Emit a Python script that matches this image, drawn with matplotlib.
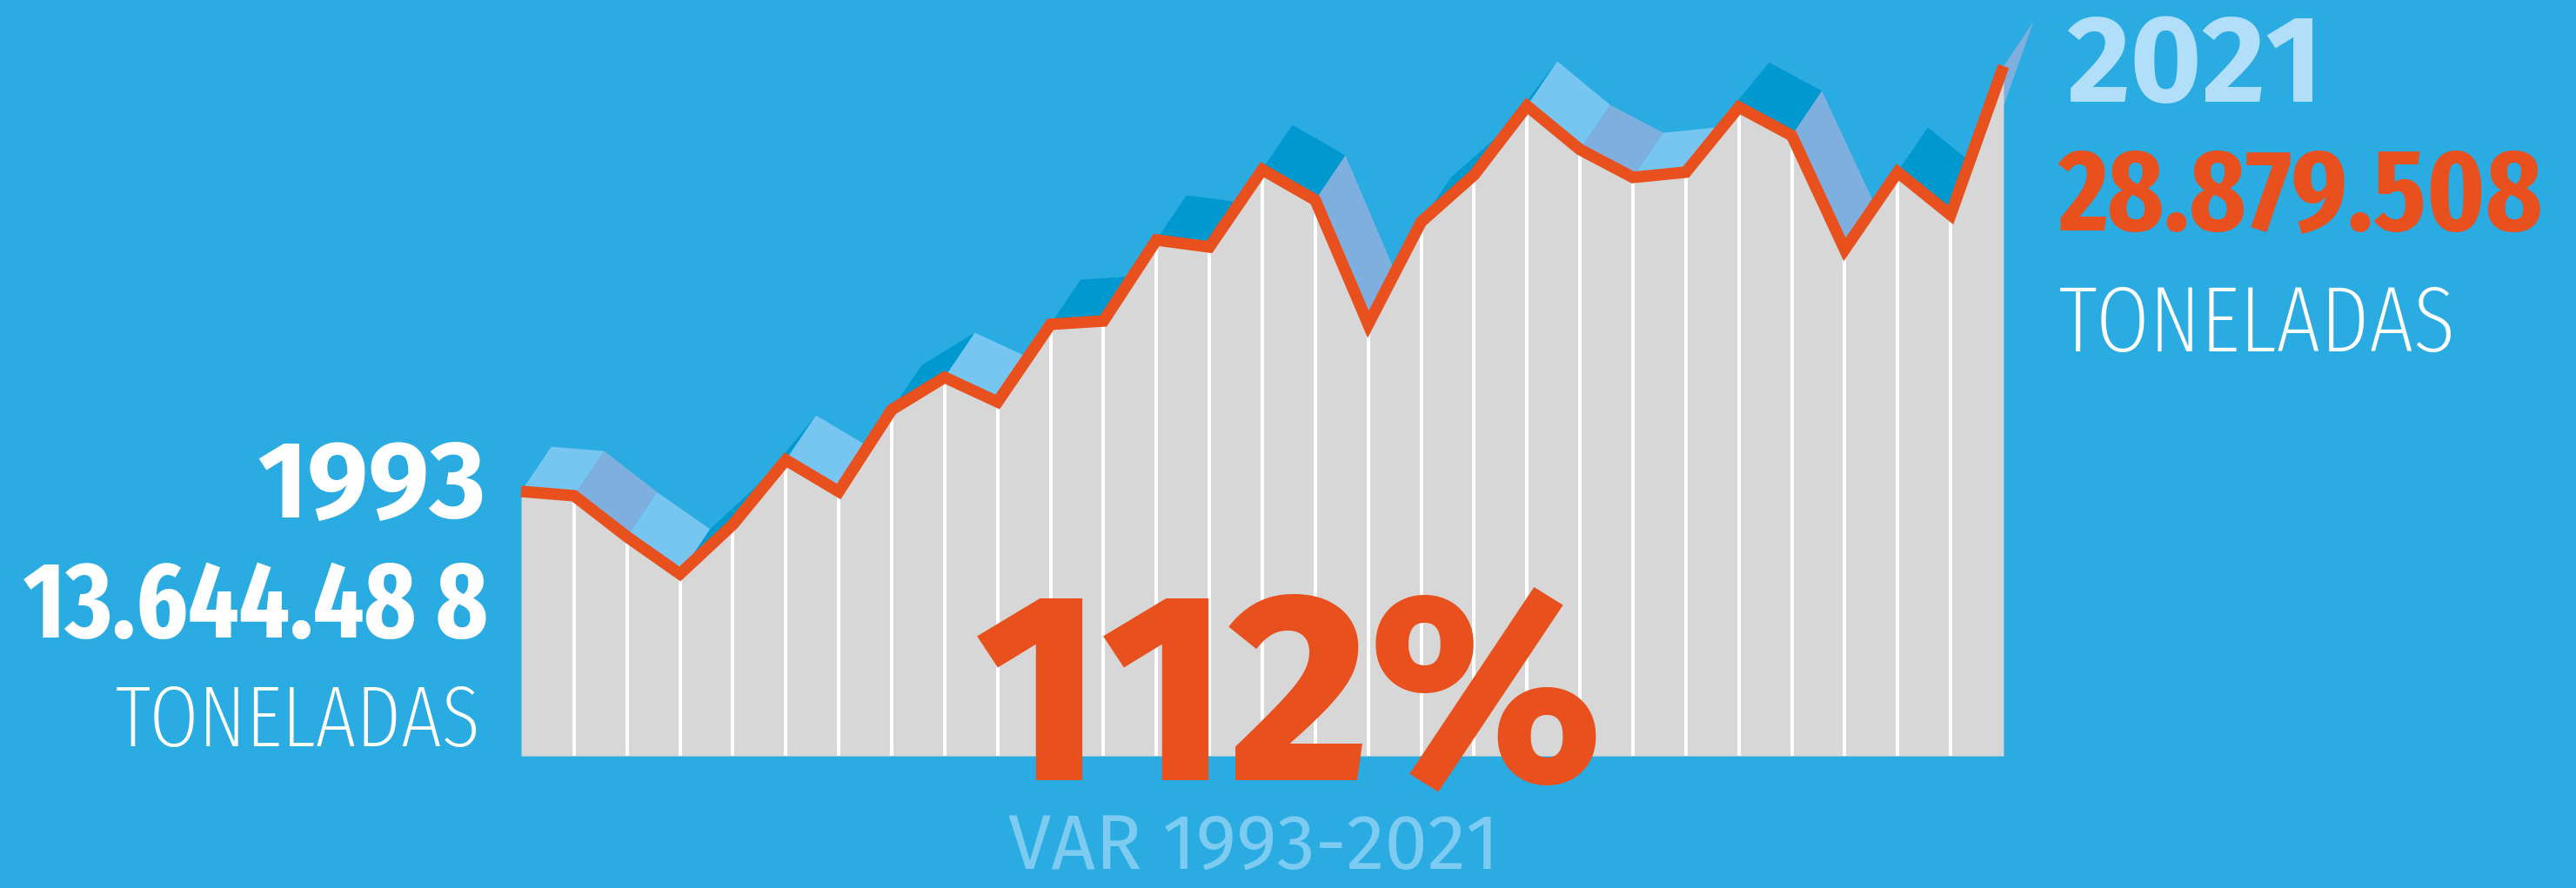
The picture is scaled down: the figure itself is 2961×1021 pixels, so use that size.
import matplotlib
matplotlib.use("Agg")
import matplotlib.pyplot as plt
import matplotlib.font_manager as fm
from matplotlib.textpath import TextPath
from matplotlib.patches import Polygon
import numpy as np
import os
import math

# ---------------- data ----------------
years = list(range(1993, 2022))
# tonnes, millions
values = [13.644488, 13.49, 12.02, 10.69, 12.46, 14.77, 13.64, 16.57, 17.73, 16.85,
          19.63, 19.75, 22.65, 22.40, 25.17, 24.08, 19.63, 23.30, 24.98, 27.45,
          25.89, 24.89, 25.08, 27.41, 26.39, 22.31, 25.08, 23.55, 28.879508]
start_year_label = "1993"
start_value_label = "13.644.48 8"
end_year_label = "2021"
end_value_label = "28.879.508"
unit_label = "TONELADAS"
var_label = "112%"
var_caption = "VAR 1993-2021"

# ---------------- style ----------------
W, H, DPI = 2961, 1021, 100
BG = "#2AABE2"
GREY = "#D7D7D7"
ORANGE = "#E8501E"
LIGHT = "#76C6F1"
PURPLE = "#7FAFDE"
DARK = "#0099CF"
seg_colors = [LIGHT, PURPLE, LIGHT, DARK, DARK, LIGHT, DARK, DARK, LIGHT, DARK,
              DARK, DARK, DARK, DARK, DARK, PURPLE, DARK, DARK, DARK, LIGHT,
              PURPLE, LIGHT, DARK, DARK, PURPLE, DARK, DARK, PURPLE]
BASE = 4.17          # value at the bottom of the grey area
DX, DY = 0.57, 1.6   # 3D ribbon offset (years, millions)

# ---------------- fonts ----------------
ttf = fm.fontManager.ttflist


def key(f):
    return (os.path.basename(f.fname) + " " + f.name).lower().replace("-", "").replace(" ", "")


def weight_of(f):
    k = key(f)
    w = f.weight
    if isinstance(w, str):
        w = {"ultralight": 200, "light": 300, "normal": 400, "regular": 400,
             "medium": 500, "semibold": 600, "bold": 700, "heavy": 800,
             "black": 900}.get(w, 400)
    if "extrabold" in k or "black" in k or "heavy" in k:
        w = max(w, 800)
    elif "semibold" in k:
        w = max(w, 600)
    elif "bold" in k:
        w = max(w, 700)
    if "thin" in k or "hairline" in k:
        w = min(w, 100)
    elif "extralight" in k:
        w = min(w, 200)
    elif "light" in k:
        w = min(w, 300)
    return w


def cond_of(f):
    k = key(f)
    if "extracondensed" in k or "ultracondensed" in k:
        return 3
    if "semicondensed" in k:
        return 1
    if "condensed" in k or "cond" in k or "narrow" in k:
        return 2
    return 0


def italic(f):
    k = key(f)
    return f.style != "normal" or "italic" in k or "oblique" in k


def fira(weight):
    out = []
    for f in ttf:
        if italic(f):
            continue
        k = os.path.basename(f.fname).lower()
        if k.startswith("firasans") and "mono" not in k and weight_of(f) == weight:
            out.append(fm.FontProperties(fname=f.fname))
    return out


def best_cond(target_w, fallback):
    cands = [f for f in ttf if not italic(f) and cond_of(f) > 0]
    if not cands:
        return [fallback]
    cands.sort(key=lambda f: (abs(weight_of(f) - target_w) // 50, -cond_of(f)))
    f = cands[0]
    if abs(weight_of(f) - target_w) > 150:
        return [fallback]
    return [fm.FontProperties(fname=f.fname)]


bold_set = fira(700) or best_cond(700, fm.FontProperties(family="DejaVu Sans", weight="bold"))
heavy_set = fira(800) or fira(900) or bold_set
reg_set = fira(400) or best_cond(400, fm.FontProperties(family="DejaVu Sans"))
thin_set = fira(200) or fira(100) or best_cond(200, fm.FontProperties(family="Lato", weight="light"))

# ---------------- figure ----------------
fig = plt.figure(figsize=(W / DPI, H / DPI), dpi=DPI, facecolor=BG)
ax = fig.add_axes([0, 0, 1, 1])
ax.set_facecolor(BG)
ax.set_xlim(1983.157, 2031.813)
ax.set_ylim(-0.561, 31.246)
ax.axis("off")

x = np.array(years, dtype=float)
y = np.array(values, dtype=float)

for i in range(len(x) - 1):
    pts = [(x[i], y[i]), (x[i] + DX, y[i] + DY),
           (x[i + 1] + DX, y[i + 1] + DY), (x[i + 1], y[i + 1])]
    ax.add_patch(Polygon(pts, closed=True, facecolor=seg_colors[i],
                         edgecolor="none", zorder=1))

ax.fill_between(x, BASE, y, color=GREY, lw=0, zorder=2)
ax.vlines(x[1:-1], BASE, y[1:-1], color="white", lw=2.9, zorder=3)
ax.plot(x, y, color=ORANGE, lw=9.6, solid_joinstyle="miter",
        solid_capstyle="butt", zorder=6)


def choose(s, fps, box):
    """pick the font whose ink aspect best matches the box."""
    l, t, r, b = box
    target = (r - l) / float(b - t)
    bestfp, bestd = fps[0], 1e9
    for fp in fps:
        e = TextPath((0, 0), s, size=100, prop=fp).get_extents()
        d = abs(math.log((e.width / e.height) / target))
        if d < bestd:
            bestfp, bestd = fp, d
    return bestfp


def place(s, fps, box, color, align="center", z=10):
    l, t, r, b = box
    fp = choose(s, fps, box)
    e = TextPath((0, 0), s, size=100, prop=fp).get_extents()
    k = min((b - t) / e.height, (r - l) / e.width)
    inkw = e.width * k
    if align == "right":
        l = r - inkw
    elif align == "left":
        r = l + inkw
    size_pt = k * 100 * 72 / DPI
    cx = (l + r) / 2.0
    base_from_bottom = (H - b) - e.y0 * k
    fig.text(cx / W, base_from_bottom / H, s, fontproperties=fp,
             fontsize=size_pt, color=color, ha="center", va="baseline",
             zorder=z)


place(start_year_label, bold_set, (276, 509, 556, 599), "white", "right")
place(start_value_label, bold_set, (28, 633, 559, 735), "white", "right")
place(unit_label, thin_set, (136, 774, 550, 859), "white", "right")

place(end_year_label, bold_set, (2381, 19, 2687, 119), "#B1DFF9", "left")
place(end_value_label, bold_set, (2367, 155, 2922, 269), ORANGE, "left")
place(unit_label, thin_set, (2370, 312, 2820, 405), "white", "left")

place(var_label, heavy_set, (1093, 675, 1871, 911), ORANGE, z=5)
place(var_caption, reg_set, (1137, 938, 1746, 1001), "#7ECBF2")

fig.savefig("out.png", dpi=DPI, facecolor=BG)
